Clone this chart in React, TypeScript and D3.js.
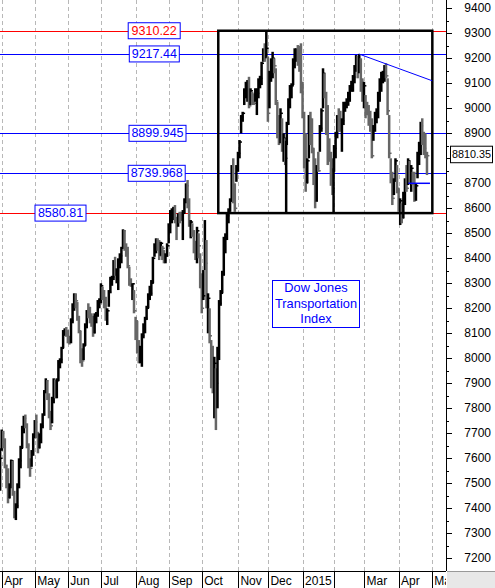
import React from 'react';
import * as d3 from 'd3';

// [high, low, close] per trading day
const mar14 = [[7640,7470,7600]];
const apr14 = [[7715,7630,7700],[7710,7640,7650],[7680,7560,7570],[7575,7480,7500],[7560,7420,7440],[7500,7440,7490],[7595,7480,7590],[7590,7450,7460],[7470,7360,7380],[7420,7353,7410],[7500,7400,7490],[7600,7480,7590],[7650,7560,7640],[7730,7640,7720],[7770,7700,7760],[7775,7720,7730],[7740,7640,7650],[7660,7560,7580],[7600,7526,7560],[7633,7566,7620],[7700,7610,7690]];
const may14 = [[7753,7680,7745],[7775,7680,7690],[7706,7620,7640],[7700,7640,7690],[7740,7660,7730],[7780,7720,7775],[7873,7770,7865],[7920,7860,7910],[7913,7833,7840],[7860,7760,7780],[7790,7713,7730],[7846,7740,7840],[7920,7820,7900],[7915,7840,7860],[7920,7840,7910],[7993,7910,7985],[8000,7960,7995],[8046,7980,8040],[8113,8040,8100],[8120,8090,8115],[8125,8086,8100]];
const jun14 = [[8113,8060,8070],[8090,8055,8065],[8160,8060,8150],[8220,8140,8210],[8260,8190,8250],[8260,8200,8230],[8225,8150,8160],[8170,8100,8110],[8110,7980,8000],[8040,7966,7990],[8060,7993,8050],[8140,8050,8130],[8193,8120,8185],[8220,8160,8170],[8206,8140,8150],[8180,8126,8140],[8170,8086,8100],[8180,8100,8170],[8185,8140,8180],[8233,8166,8225],[8240,8200,8235]];
const jul14 = [[8300,8220,8290],[8286,8233,8270],[8273,8200,8210],[8246,8150,8170],[8200,8133,8190],[8273,8206,8265],[8326,8260,8320],[8330,8290,8325],[8393,8313,8385],[8406,8330,8340],[8360,8300,8350],[8400,8273,8380],[8420,8360,8410],[8446,8380,8440],[8516,8440,8510],[8513,8430,8440],[8460,8406,8420],[8446,8360,8370],[8366,8290,8300],[8320,8286,8295],[8300,8233,8298],[8273,8180,8190]];
const aug14 = [[8166,8073,8150],[8150,8020,8030],[8073,7980,8000],[8050,7980,8010],[8100,7966,8090],[8140,8080,8130],[8166,8100,8160],[8210,8153,8200],[8260,8200,8250],[8290,8233,8260],[8313,8250,8300],[8406,8300,8400],[8460,8406,8450],[8480,8420,8470],[8480,8430,8440],[8473,8393,8410],[8466,8410,8460],[8450,8393,8440],[8433,8380,8390],[8420,8380,8410],[8460,8406,8450]];
const sep14 = [[8540,8460,8530],[8593,8500,8580],[8600,8540,8590],[8606,8553,8600],[8613,8540,8550],[8566,8473,8540],[8580,8526,8570],[8586,8540,8560],[8586,8550,8555],[8593,8473,8580],[8640,8580,8630],[8700,8620,8690],[8713,8600,8620],[8640,8526,8540],[8553,8480,8545],[8540,8486,8500],[8513,8420,8430],[8470,8393,8410],[8526,8380,8510],[8500,8400,8450],[8420,8280,8300]];
const oct14 = [[8340,8180,8200],[8353,8233,8250],[8553,8353,8380],[8473,8200,8220],[8260,8100,8240],[8200,8060,8090],[8073,7880,7900],[8050,7860,7880],[8006,7760,7980],[7960,7713,7900],[8046,7800,8000],[8233,7993,8220],[8273,8210,8260],[8350,8260,8340],[8486,8330,8480],[8500,8420,8490],[8580,8473,8570],[8600,8540,8590],[8640,8586,8630],[8773,8626,8760],[8800,8620,8640],[8700,8586,8600],[8773,8706,8765]];
const nov14 = [[8826,8746,8820],[8873,8800,8865],[8973,8900,8965],[8986,8946,8980],[9080,9013,9070],[9106,9040,9090],[9113,9026,9100],[9126,9000,9010],[9080,9013,9070],[9066,9013,9030],[9060,9013,9020],[9080,9026,9040],[9080,8973,9060],[9120,9040,9110],[9130,9080,9120],[9186,9093,9180],[9240,9186,9230],[9260,9186,9220],[9310,9200,9240]];
const dec14 = [[9206,8946,8980],[9150,9000,9130],[9200,9106,9180],[9226,9120,9200],[9200,9140,9170],[9160,9013,9030],[9026,8880,8900],[8973,8853,8870],[9000,8860,8980],[8960,8826,8840],[8900,8786,8880],[8880,8773,8800],[8946,8853,8940],[9040,8933,9030],[9093,9000,9085],[9100,9040,9090],[9200,9093,9190],[9240,9160,9230],[9240,9186,9235],[9253,9170,9200],[9250,9146,9180],[9260,9060,9080]];
const jan15 = [[9106,8960,8980],[8986,8760,8780],[8900,8666,8700],[8800,8700,8790],[8973,8800,8960],[8986,8853,8870],[8960,8820,8840],[8840,8693,8710],[8800,8600,8640],[8773,8626,8760],[8826,8746,8750],[8933,8826,8920],[9000,8906,8990],[9160,9000,9140],[9140,9040,9060],[9066,8893,8910],[9013,8773,8800],[8880,8786,8795],[8826,8690,8700],[8760,8653,8680]];
const feb15 = [[8853,8746,8840],[8906,8800,8900],[8973,8880,8960],[9000,8906,8930],[8990,8906,8920],[8960,8826,8950],[9026,8933,9010],[9026,8986,9020],[9040,9000,9035],[9066,9010,9060],[9093,9026,9085],[9110,9066,9100],[9133,9066,9125],[9173,9100,9165],[9213,9146,9200],[9210,9120,9150],[9217,9140,9190],[9200,9066,9080],[9120,9026,9040]];
const mar15 = [[9106,9000,9090],[9053,8960,8980],[9026,8973,8975],[9013,8930,8950],[8990,8906,8920],[8960,8800,8810],[8933,8870,8920],[8986,8906,8970],[9000,8940,8990],[9066,8960,9060],[9120,9026,9110],[9146,9066,9140],[9150,9100,9145],[9173,9106,9170],[9180,9120,9130],[9120,8973,8990],[8973,8800,8820],[8800,8700,8720],[8746,8613,8640],[8720,8653,8710],[8800,8706,8790],[8773,8660,8680]];
const apr15 = [[8680,8586,8610],[8640,8533,8630],[8620,8540,8560],[8666,8560,8660],[8720,8613,8710],[8773,8666,8680],[8800,8693,8790],[8790,8700,8720],[8773,8666,8760],[8746,8693,8700],[8746,8626,8640],[8700,8630,8690],[8826,8720,8820],[8866,8773,8850],[8946,8813,8930],[8960,8853,8880],[8906,8813,8840],[8900,8800,8820],[8826,8733,8810.35]];

const monthTickIndex = [1,22,43,64,86,107,128,151,170,192,212,231,253,274];
const monthLabels = ["Apr","May","Jun","Jul","Aug","Sep","Oct","Nov","Dec","2015","","Mar","Apr","May"];
const levelValues = [9310.22, 9217.44, 8899.945, 8739.968, 8580.81];
const lastClose = 8810.35;
const yTickValues = d3.range(7200, 9401, 100);
const yMinorValues = d3.range(7250, 9400, 100);
const titleLines = ["Dow Jones", "Transportation", "Index"];

// annotations in data coordinates (index, value)
const boxRange = { i0: 138.5, i1: 274.4, v0: 8580.81, v1: 9310.22 };
const dividers = [{ i: 181.6, top: 8870 }, { i: 211.7, top: 8800 }];
const trend = { i0: 227.7, v0: 9217.44, i1: 274.4, v1: 9110 };
const segment = { i0: 259.2, i1: 272.9, v: 8700 };

const W = 495, H = 588, PR = 446, PB = 571;
const FONT = "Arial, 'Liberation Sans', sans-serif";
const levelStyle = [
  { line: '#ff0000', text: '#ff0000', cx: 154.2, w: 52 },
  { line: '#0000ff', text: '#0000ff', cx: 154.3, w: 50 },
  { line: '#0000ff', text: '#0000ff', cx: 157.5, w: 57 },
  { line: '#0000ff', text: '#0000ff', cx: 156.7, w: 57 },
  { line: '#ff0000', text: '#0000ff', cx: 60.5, w: 51 },
];

export default function App() {
  const bars = [...mar14, ...apr14, ...may14, ...jun14, ...jul14, ...aug14, ...sep14, ...oct14, ...nov14, ...dec14, ...jan15, ...feb15, ...mar15, ...apr15];
  const x = d3.scaleLinear().domain([0, 274]).range([0.125, 431.7]);
  const y = d3.scaleLinear().domain([7200, 9400]).range([558.3, 8.3]);
  const yLast = y(lastClose);

  return (
    <svg width={W} height={H} style={{ position: 'absolute', left: 0, top: 0, background: '#fff' }} fontFamily={FONT}>
      <defs>
        <clipPath id="plot"><rect x={0} y={0} width={PR} height={PB} /></clipPath>
        <clipPath id="xaxis"><rect x={0} y={PB} width={PR} height={H - PB} /></clipPath>
      </defs>
      <rect x={0} y={0} width={W} height={H} fill="#fff" />
      <g clipPath="url(#plot)">
        {monthTickIndex.map((t, i) => (
          <line key={'g' + i} x1={Math.round(x(t)) + 0.5} x2={Math.round(x(t)) + 0.5} y1={0} y2={PB} stroke="#b8b8b8" strokeDasharray="4,3" />
        ))}
        {levelValues.map((v, i) => (
          <line key={'l' + i} x1={0} x2={PR} y1={Math.round(y(v)) + 0.5} y2={Math.round(y(v)) + 0.5} stroke={levelStyle[i].line} strokeWidth={1} shapeRendering="crispEdges" />
        ))}
        {bars.map((b, i) => {
          const prev = i > 0 ? bars[i - 1][2] : b[2];
          const col = b[2] >= prev ? '#000000' : '#666666';
          const xi = x(i);
          return (
            <g key={'b' + i} stroke={col}>
              <line x1={xi} x2={xi} y1={y(b[0])} y2={y(b[1])} strokeWidth={2.5} />
              <line x1={xi} x2={xi + 2.4} y1={y(b[2])} y2={y(b[2])} strokeWidth={1.5} />
            </g>
          );
        })}
        <rect x={x(boxRange.i0)} y={y(boxRange.v1)} width={x(boxRange.i1) - x(boxRange.i0)} height={y(boxRange.v0) - y(boxRange.v1)} fill="none" stroke="#000" strokeWidth={2.5} />
        {dividers.map((d, i) => (
          <line key={'d' + i} x1={x(d.i)} x2={x(d.i)} y1={y(boxRange.v0)} y2={y(d.top)} stroke="#000" strokeWidth={2.5} />
        ))}
        <line x1={x(trend.i0)} y1={y(trend.v0)} x2={x(trend.i1)} y2={y(trend.v1)} stroke="#0000ff" strokeWidth={1} />
        <line x1={x(segment.i0)} x2={x(segment.i1)} y1={y(segment.v)} y2={y(segment.v)} stroke="#0000ff" strokeWidth={1.5} />
        {levelValues.map((v, i) => {
          const s = levelStyle[i];
          const cy = y(v);
          return (
            <g key={'lb' + i}>
              <rect x={s.cx - s.w / 2} y={cy - 8} width={s.w} height={16} fill="#fff" stroke="#0000ff" strokeWidth={1} />
              <text x={s.cx} y={cy + 0.5} textAnchor="middle" dominantBaseline="middle" fontSize={12.5} fill={s.text}>{String(v)}</text>
            </g>
          );
        })}
        <rect x={272.5} y={280.5} width={87} height={47} fill="#fff" stroke="#0000ff" strokeWidth={1} />
        {titleLines.map((t, i) => (
          <text key={'t' + i} x={316} y={288.5 + i * 15.7} textAnchor="middle" dominantBaseline="middle" fontSize={12.8} fill="#0000ff">{t}</text>
        ))}
      </g>
      {/* axes */}
      <line x1={PR + 0.5} x2={PR + 0.5} y1={0} y2={PB} stroke="#000" />
      <line x1={0} x2={PR} y1={PB + 0.5} y2={PB + 0.5} stroke="#000" />
      {yTickValues.map((v) => (
        <g key={'yt' + v}>
          <line x1={PR} x2={PR + 6} y1={Math.round(y(v)) + 0.5} y2={Math.round(y(v)) + 0.5} stroke="#000" />
          {Math.abs(y(v) - yLast) > 12 && (
            <text x={491} y={y(v) + 1} textAnchor="end" dominantBaseline="middle" fontSize={12} fill="#000">{v}</text>
          )}
        </g>
      ))}
      {yMinorValues.map((v) => (
        <line key={'ym' + v} x1={PR} x2={PR + 3} y1={Math.round(y(v)) + 0.5} y2={Math.round(y(v)) + 0.5} stroke="#000" />
      ))}
      <rect x={450.5} y={yLast - 9.5} width={42} height={16.5} fill="#fff" stroke="#000" strokeWidth={1} />
      <text x={471.5} y={yLast - 1} textAnchor="middle" dominantBaseline="middle" fontSize={10.8} fill="#000">{String(lastClose)}</text>
      <g clipPath="url(#xaxis)">
        {monthTickIndex.map((t, i) => (
          <g key={'xt' + i}>
            <line x1={Math.round(x(t)) + 0.5} x2={Math.round(x(t)) + 0.5} y1={PB} y2={H} stroke="#000" />
            <text x={x(t) + 2.5} y={584.5} fontSize={12} fill="#000">{monthLabels[i]}</text>
          </g>
        ))}
      </g>
      <rect x={PR + 1} y={PB + 1} width={W - PR - 1} height={H - PB - 1} fill="#e8e8e8" />
      <line x1={PR + 1} x2={W} y1={PB + 0.5} y2={PB + 0.5} stroke="#999" />
    </svg>
  );
}
